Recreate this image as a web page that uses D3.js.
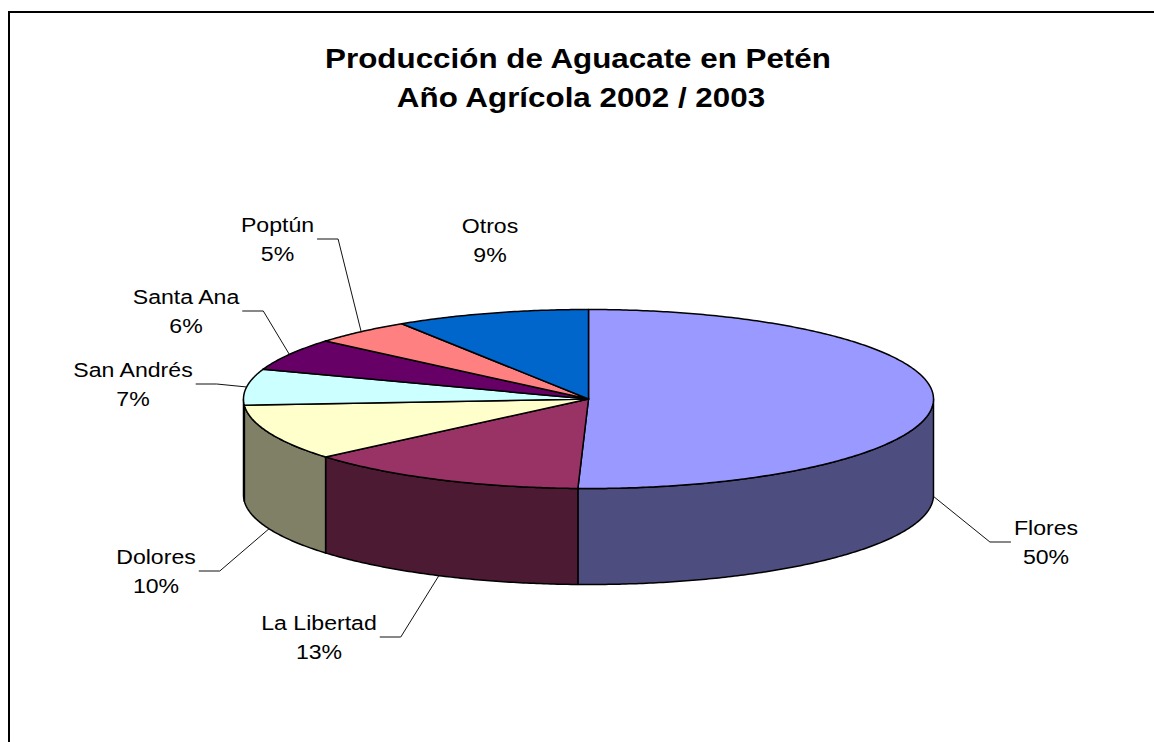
<!DOCTYPE html>
<html>
<head>
<meta charset="utf-8">
<script src="https://cdn.jsdelivr.net/npm/d3@7"></script>
<style>
  body { margin: 0; background: #fff; }
  svg { display: block; }
</style>
</head>
<body>
<div id="main"></div>
<script>
// datos
const regions = ["Flores", "La Libertad", "Dolores", "San Andrés", "Santa Ana", "Poptún", "Otros"];
const shares = [50.49, 13.3, 10.1, 6.51, 5.8, 4.7, 9.1];
const pctLabels = ["50%", "13%", "10%", "7%", "6%", "5%", "9%"];
const sliceColors = ["#9999FF", "#993366", "#FFFFCC", "#CCFFFF", "#660066", "#FF8080", "#0066CC"];
const titleLines = ["Producción de Aguacate en Petén", "Año Agrícola 2002 / 2003"];

const ctx = {
    w: 1154,
    h: 742,
    cx: 588.5, cy: 399,      // centro de la elipse superior
    rx: 345, ry: 89.5,       // radios de la elipse
    depth: 96,               // grosor del pastel
    font: "Arial, 'Liberation Sans', sans-serif",
};

// posición de cada etiqueta (centro x, primera línea base)
const labelPos = [[1046, 535], [319, 630], [156, 564], [133, 377], [186, 304], [277.5, 232], [490, 233]];

function pt(a, z) {
    return [ctx.cx + ctx.rx * Math.sin(a), ctx.cy - ctx.ry * Math.cos(a) + z];
}

function arcPts(a0, a1, z) {
    const n = Math.max(2, Math.ceil(Math.abs(a1 - a0) / 0.01));
    return d3.range(n + 1).map(i => pt(a0 + (a1 - a0) * i / n, z));
}

function scaledText(g, x, y, str, size, weight, sx) {
    const t = g.append("g")
        .attr("transform", `translate(${x},${y}) scale(${sx},1)`)
        .append("text")
        .attr("text-anchor", "middle")
        .attr("font-family", ctx.font)
        .attr("font-size", size)
        .attr("font-weight", weight)
        .attr("fill", "#000")
        .text(str);
    return t.node().getComputedTextLength() * sx;
}

function createPie(svgEl) {
    const arcs = d3.pie().sort(null).value(d => d)(shares);
    const line = d3.line();
    const gPie = svgEl.append("g");

    // paredes laterales (solo la mitad frontal es visible)
    arcs.forEach((d, i) => {
        const a0 = Math.max(d.startAngle, Math.PI / 2);
        const a1 = Math.min(d.endAngle, Math.PI * 3 / 2);
        if (a0 >= a1) return;
        const pts = arcPts(a0, a1, 0).concat(arcPts(a1, a0, ctx.depth));
        const c = d3.rgb(sliceColors[i]);
        gPie.append("path")
            .attr("d", line(pts) + "Z")
            .attr("fill", d3.rgb(c.r * 0.5, c.g * 0.5, c.b * 0.5))
            .attr("stroke", "#000")
            .attr("stroke-width", 1.5)
            .attr("stroke-linejoin", "round");
    });

    // caras superiores
    arcs.forEach((d, i) => {
        const pts = [[ctx.cx, ctx.cy]].concat(arcPts(d.startAngle, d.endAngle, 0));
        gPie.append("path")
            .attr("d", line(pts) + "Z")
            .attr("fill", sliceColors[i])
            .attr("stroke", "#000")
            .attr("stroke-width", 1.5)
            .attr("stroke-linejoin", "round");
    });

    // etiquetas y líneas guía
    const gLab = svgEl.append("g");
    const gLead = svgEl.append("g");
    arcs.forEach((d, i) => {
        const [lx, ly] = labelPos[i];
        const w1 = scaledText(gLab, lx, ly, regions[i], 21, "normal", 1.1);
        const w2 = scaledText(gLab, lx, ly + 29, pctLabels[i], 21, "normal", 1.1);
        const half = Math.max(w1, w2) / 2;
        const m = (d.startAngle + d.endAngle) / 2;
        const anchor = Math.cos(m) < 0 ? pt(m, ctx.depth) : pt(m, 0);
        if (Math.abs(anchor[0] - lx) < half) return; // etiqueta junto a su sector
        const dir = anchor[0] > lx ? 1 : -1;
        const edgeX = lx + dir * (half + 3);
        const elbowX = edgeX + dir * 21;
        gLead.append("path")
            .attr("d", line([[edgeX, ly + 7], [elbowX, ly + 7], anchor]))
            .attr("fill", "none")
            .attr("stroke", "#111")
            .attr("stroke-width", 1);
    });
}

function createViz() {
    const svgEl = d3.select("#main").append("svg")
        .attr("width", ctx.w)
        .attr("height", ctx.h);

    svgEl.append("rect")
        .attr("width", ctx.w).attr("height", ctx.h)
        .attr("fill", "#fff");

    // marco del gráfico (sale por la derecha y abajo)
    svgEl.append("rect")
        .attr("x", 9).attr("y", 12)
        .attr("width", ctx.w + 20).attr("height", ctx.h + 20)
        .attr("fill", "none")
        .attr("stroke", "#000")
        .attr("stroke-width", 2);

    createPie(svgEl);

    const gTitle = svgEl.append("g");
    scaledText(gTitle, 578, 68, titleLines[0], 28, "bold", 1.12);
    scaledText(gTitle, 581, 107, titleLines[1], 28, "bold", 1.12);
}

createViz();
</script>
</body>
</html>
